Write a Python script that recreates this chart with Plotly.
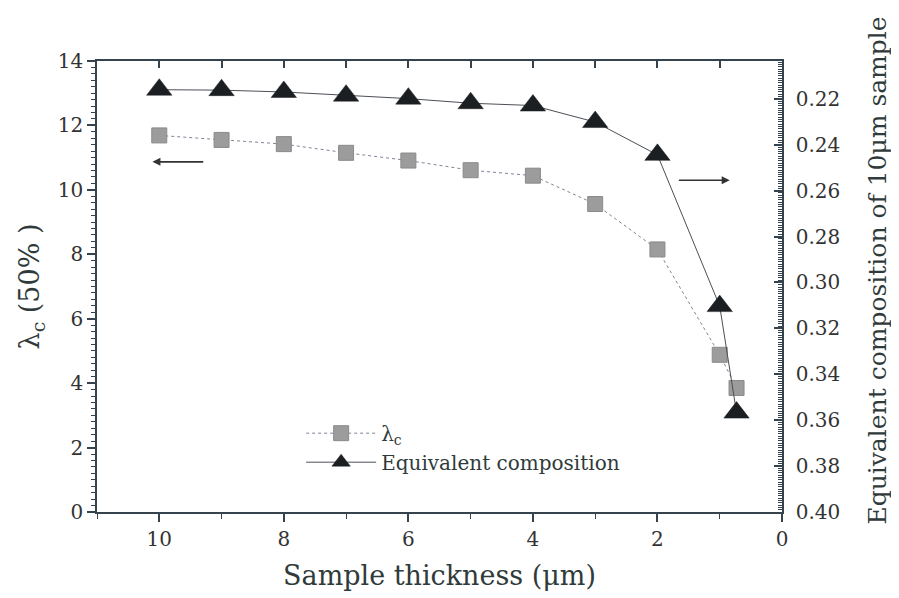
import plotly.graph_objects as go

# ---- data ----
thickness = [10, 9, 8, 7, 6, 5, 4, 3, 2, 1, 0.73]
lambda_c = [11.69, 11.55, 11.42, 11.15, 10.91, 10.61, 10.44, 9.56, 8.15, 4.88, 3.85]
equiv_comp = [0.2160, 0.2162, 0.2170, 0.2186, 0.2199, 0.2219, 0.2229, 0.2301, 0.2444, 0.3103, 0.3567]

x_ticks = [10, 8, 6, 4, 2, 0]
x_tick_text = ["10", "8", "6", "4", "2", "0"]
y_ticks = [0, 2, 4, 6, 8, 10, 12, 14]
y2_ticks = [0.22, 0.24, 0.26, 0.28, 0.30, 0.32, 0.34, 0.36, 0.38, 0.40]

FONT = "DejaVu Serif, Liberation Serif, serif"
AX = "#34434d"
TXT = "#333333"
TITLE_C = "#2f3b3a"

fig = go.Figure()

fig.add_trace(go.Scatter(
    x=thickness, y=lambda_c, name="λ<sub>c</sub>", mode="lines+markers",
    line=dict(color="#7d8594", width=1, dash="dot"),
    marker=dict(symbol="square", size=15, color="#9c9c9c",
                line=dict(color="#8a8a8a", width=1)),
    xaxis="x", yaxis="y",
))
fig.add_trace(go.Scatter(
    x=thickness, y=equiv_comp, name="Equivalent composition", mode="lines+markers",
    line=dict(color="#4a4f55", width=1),
    marker=dict(symbol="triangle-up", size=22, color="#1c1f22",
                line=dict(color="#1c1f22", width=0.5)),
    xaxis="x2", yaxis="y2",
))

# direction arrows (left arrow -> left axis, right arrow -> right axis)
fig.add_annotation(x=10.11, y=10.87, ax=9.27, ay=10.87, xref="x", yref="y",
                   axref="x", ayref="y", text="", showarrow=True,
                   arrowhead=2, arrowsize=1, arrowwidth=1.6, arrowcolor="#333")
fig.add_annotation(x=0.84, y=10.3, ax=1.68, ay=10.3, xref="x", yref="y",
                   axref="x", ayref="y", text="", showarrow=True,
                   arrowhead=2, arrowsize=1, arrowwidth=1.6, arrowcolor="#333")

# right axis title
fig.add_annotation(x=1.14, y=0.535, xref="paper", yref="paper",
                   text="Equivalent composition of 10μm sample", textangle=-90,
                   showarrow=False, xanchor="center", yanchor="middle",
                   font=dict(family=FONT, size=25, color=TITLE_C))

fig.update_layout(
    width=899, height=598,
    margin=dict(l=89, r=125, t=53, b=94),
    paper_bgcolor="white", plot_bgcolor="white",
    font=dict(family=FONT, color=TXT),
    showlegend=True,
    legend=dict(x=0.298, y=0.218, xanchor="left", yanchor="top",
                bgcolor="rgba(0,0,0,0)", font=dict(family=FONT, size=20, color=TITLE_C),
                tracegroupgap=0, itemwidth=70),
    xaxis=dict(range=[11, 0], tickvals=x_ticks, ticktext=x_tick_text,
               ticks="outside", ticklen=8, tickwidth=1.5, tickcolor=AX,
               minor=dict(dtick=1, tick0=0, ticks="outside", ticklen=5, tickcolor=AX, tickwidth=1.2),
               showline=True, linecolor=AX, linewidth=1.5, showgrid=False, zeroline=False,
               tickfont=dict(family=FONT, size=20, color=TXT),
               title=dict(text="Sample thickness (μm)", font=dict(family=FONT, size=27, color=TITLE_C),
                          standoff=16)),
    xaxis2=dict(range=[11, 0], overlaying="x", side="top", anchor="y",
                dtick=1, tick0=0, ticks="inside", ticklen=7, tickwidth=1.5, tickcolor=AX,
                showticklabels=False, showline=True, linecolor=AX, linewidth=1.5,
                showgrid=False, zeroline=False),
    yaxis=dict(range=[0, 14], tickvals=y_ticks,
               ticks="outside", ticklen=8, tickwidth=1.5, tickcolor=AX,
               minor=dict(dtick=0.2, tick0=0, ticks="outside", ticklen=4, tickcolor=AX, tickwidth=1),
               showline=True, linecolor=AX, linewidth=1.5, showgrid=False, zeroline=False,
               tickfont=dict(family=FONT, size=20, color=TXT),
               title=dict(text="λ<sub>c</sub> (50% )", font=dict(family=FONT, size=27, color=TITLE_C),
                          standoff=10)),
    yaxis2=dict(range=[0.40, 0.2035], overlaying="y", side="right", anchor="x2",
                tickvals=y2_ticks, tickformat=".2f",
                ticks="inside", ticklen=8, tickwidth=1.5, tickcolor=AX,
                minor=dict(dtick=0.001, tick0=0.2, ticks="inside", ticklen=4, tickcolor=AX, tickwidth=0.8),
                showline=True, linecolor=AX, linewidth=1.5, showgrid=False, zeroline=False,
                ticklabelstandoff=8,
                tickfont=dict(family=FONT, size=20, color=TXT)),
)

fig.write_html("out.html")
